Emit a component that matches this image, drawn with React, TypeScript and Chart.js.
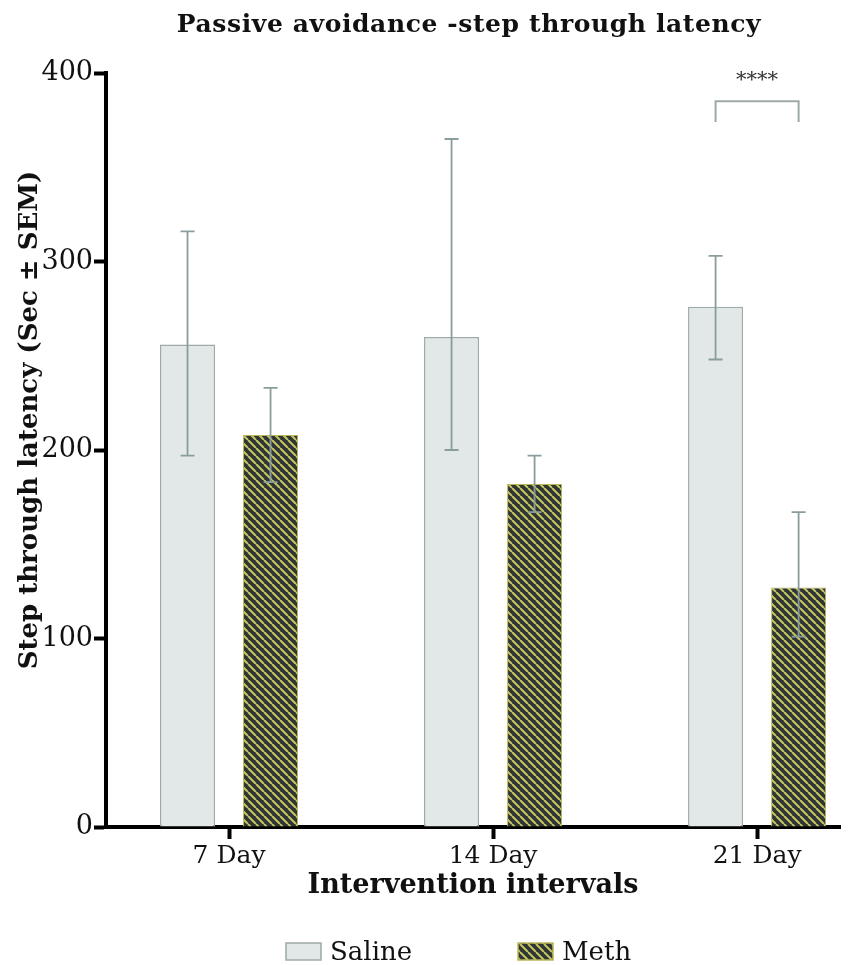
import React, { useEffect, useRef } from 'react';
import { Chart, registerables } from 'chart.js';

Chart.register(...registerables);

// ---- data ----
const categories = ['7 Day', '14 Day', '21 Day'];
const positions = [1, 2, 3];
const salineMean = [256, 260, 276];
const salineLow = [197, 200, 248];
const salineHigh = [316, 365, 303];
const methMean = [208, 182, 127];
const methLow = [183, 167, 101];
const methHigh = [233, 197, 167];
const yTicks = [0, 100, 200, 300, 400];
const seriesNames = ['Saline', 'Meth'];
const sigLabel = '****';
const sigCategoryIndex = 2;
const sigLevel = 385;
const sigLegLevel = 374;
const sigTextLevel = 396;

const titleText = 'Passive avoidance -step through latency';
const yTitle = 'Step through latency (Sec \u00B1 SEM)';
const xTitle = 'Intervention intervals';

const FONT = "'DejaVu Serif', serif";
const SALINE_FILL = '#e2e7e7';
const SALINE_BORDER = '#9ea9a9';
const METH_BASE = '#2f3535';
const METH_STRIPE = '#c4c65e';
const ERR_COLOR = '#8a9d9d';

function makeHatch(): CanvasPattern {
  const s = 8;
  const c = document.createElement('canvas');
  c.width = s;
  c.height = s;
  const g = c.getContext('2d')!;
  g.fillStyle = METH_BASE;
  g.fillRect(0, 0, s, s);
  g.strokeStyle = METH_STRIPE;
  g.lineWidth = 2;
  g.beginPath();
  for (const k of [-s, 0, s]) {
    g.moveTo(k, 0);
    g.lineTo(k + s, s);
  }
  g.stroke();
  return g.createPattern(c, 'repeat')!;
}

export default function App() {
  const ref = useRef<HTMLCanvasElement>(null);

  useEffect(() => {
    const canvas = ref.current!;
    const hatch = makeHatch();

    const overlay = {
      id: 'overlay',
      afterDatasetsDraw(chart: any) {
        const ctx = chart.ctx;
        const yS = chart.scales.y;
        const lows = [salineLow, methLow];
        const highs = [salineHigh, methHigh];
        ctx.save();
        ctx.strokeStyle = ERR_COLOR;
        ctx.lineWidth = 1.8;
        for (let d = 0; d < 2; d++) {
          const meta = chart.getDatasetMeta(d);
          meta.data.forEach((el: any, i: number) => {
            const x = el.x;
            const yl = yS.getPixelForValue(lows[d][i]);
            const yh = yS.getPixelForValue(highs[d][i]);
            ctx.beginPath();
            ctx.moveTo(x, yh);
            ctx.lineTo(x, yl);
            ctx.moveTo(x - 7, yh);
            ctx.lineTo(x + 7, yh);
            ctx.moveTo(x - 7, yl);
            ctx.lineTo(x + 7, yl);
            ctx.stroke();
          });
        }
        // significance bracket
        const x1 = chart.getDatasetMeta(0).data[sigCategoryIndex].x;
        const x2 = chart.getDatasetMeta(1).data[sigCategoryIndex].x;
        const yb = yS.getPixelForValue(sigLevel);
        const yl = yS.getPixelForValue(sigLegLevel);
        ctx.strokeStyle = SALINE_BORDER;
        ctx.lineWidth = 2;
        ctx.beginPath();
        ctx.moveTo(x1, yl);
        ctx.lineTo(x1, yb);
        ctx.lineTo(x2, yb);
        ctx.lineTo(x2, yl);
        ctx.stroke();
        ctx.fillStyle = '#333';
        ctx.font = `21px ${FONT}`;
        ctx.textAlign = 'center';
        ctx.textBaseline = 'middle';
        ctx.fillText(sigLabel, (x1 + x2) / 2, yS.getPixelForValue(sigTextLevel));
        ctx.restore();
      },
      afterDraw(chart: any) {
        const ctx = chart.ctx;
        ctx.save();
        ctx.fillStyle = '#111';
        // title
        ctx.font = `bold 25px ${FONT}`;
        (ctx as any).letterSpacing = '0.6px';
        ctx.textAlign = 'center';
        ctx.textBaseline = 'alphabetic';
        ctx.fillText(titleText, 469, 32);
        (ctx as any).letterSpacing = '0px';
        // y title
        ctx.save();
        ctx.translate(30, 420);
        ctx.rotate(-Math.PI / 2);
        ctx.font = `bold 26px ${FONT}`;
        ctx.textBaseline = 'middle';
        ctx.fillText(yTitle, 0, 0);
        ctx.restore();
        // legend
        const items = [
          { x: 286, fill: SALINE_FILL as any, border: SALINE_BORDER, tx: 330 },
          { x: 518, fill: hatch as any, border: '#b9b65a', tx: 562 },
        ];
        ctx.font = `26px ${FONT}`;
        ctx.textAlign = 'left';
        ctx.textBaseline = 'alphabetic';
        items.forEach((it, i) => {
          ctx.fillStyle = it.fill;
          ctx.fillRect(it.x, 943, 35, 17);
          ctx.strokeStyle = it.border;
          ctx.lineWidth = 1.5;
          ctx.strokeRect(it.x, 943, 35, 17);
          ctx.fillStyle = '#111';
          ctx.fillText(seriesNames[i], it.tx, 960);
        });
        ctx.restore();
      },
    };

    const chart = new Chart(canvas, {
      type: 'bar',
      data: {
        datasets: [
          {
            label: seriesNames[0],
            data: positions.map((p, i) => ({ x: p, y: salineMean[i] })),
            backgroundColor: SALINE_FILL,
            borderColor: SALINE_BORDER,
            borderWidth: 1.5,
            categoryPercentage: 0.629,
            barPercentage: 0.663,
          },
          {
            label: seriesNames[1],
            data: positions.map((p, i) => ({ x: p, y: methMean[i] })),
            backgroundColor: hatch as any,
            borderColor: '#b9b65a',
            borderWidth: 1,
            categoryPercentage: 0.629,
            barPercentage: 0.663,
          },
        ],
      },
      options: {
        responsive: false,
        animation: false,
        devicePixelRatio: 1,
        layout: { padding: { top: 73, left: 0, right: 10, bottom: 63 } },
        plugins: {
          legend: { display: false },
          title: { display: false },
          tooltip: { enabled: false },
        },
        scales: {
          x: {
            type: 'linear',
            min: 0.534,
            max: 3.314,
            offset: false,
            z: 1,
            afterBuildTicks: (scale: any) => {
              scale.ticks = positions.map((v) => ({ value: v }));
            },
            afterFit: (scale: any) => {
              scale.height = 75;
            },
            grid: {
              display: true,
              offset: false,
              drawOnChartArea: false,
              drawTicks: true,
              tickLength: 12,
              tickWidth: 4,
              tickColor: '#000',
            },
            border: { display: true, color: '#000', width: 4 },
            ticks: {
              color: '#111',
              font: { family: FONT, size: 25 },
              padding: 2,
              maxRotation: 0,
              autoSkip: false,
              callback: (v: any) => {
                const i = positions.indexOf(Number(v));
                return i >= 0 ? categories[i] : '';
              },
            },
            title: {
              display: true,
              text: xTitle,
              color: '#111',
              font: { family: FONT, size: 27, weight: 'bold' },
              padding: { top: 0, bottom: 0 },
            },
          },
          y: {
            min: 0,
            max: 400,
            z: 1,
            afterBuildTicks: (scale: any) => {
              scale.ticks = yTicks.map((v) => ({ value: v }));
            },
            afterFit: (scale: any) => {
              scale.width = 106;
            },
            grid: {
              display: true,
              drawOnChartArea: false,
              drawTicks: true,
              tickLength: 12,
              tickWidth: 4,
              tickColor: '#000',
            },
            border: { display: true, color: '#000', width: 4 },
            ticks: {
              color: '#111',
              font: { family: FONT, size: 27 },
              padding: 1,
            },
          },
        },
      } as any,
      plugins: [overlay],
    });
    return () => chart.destroy();
  }, []);

  return (
    <div style={{ position: 'absolute', left: 0, top: 0, width: 850, height: 965, background: '#fff' }}>
      <canvas ref={ref} width={850} height={965} style={{ display: 'block', width: 850, height: 965 }} />
    </div>
  );
}
